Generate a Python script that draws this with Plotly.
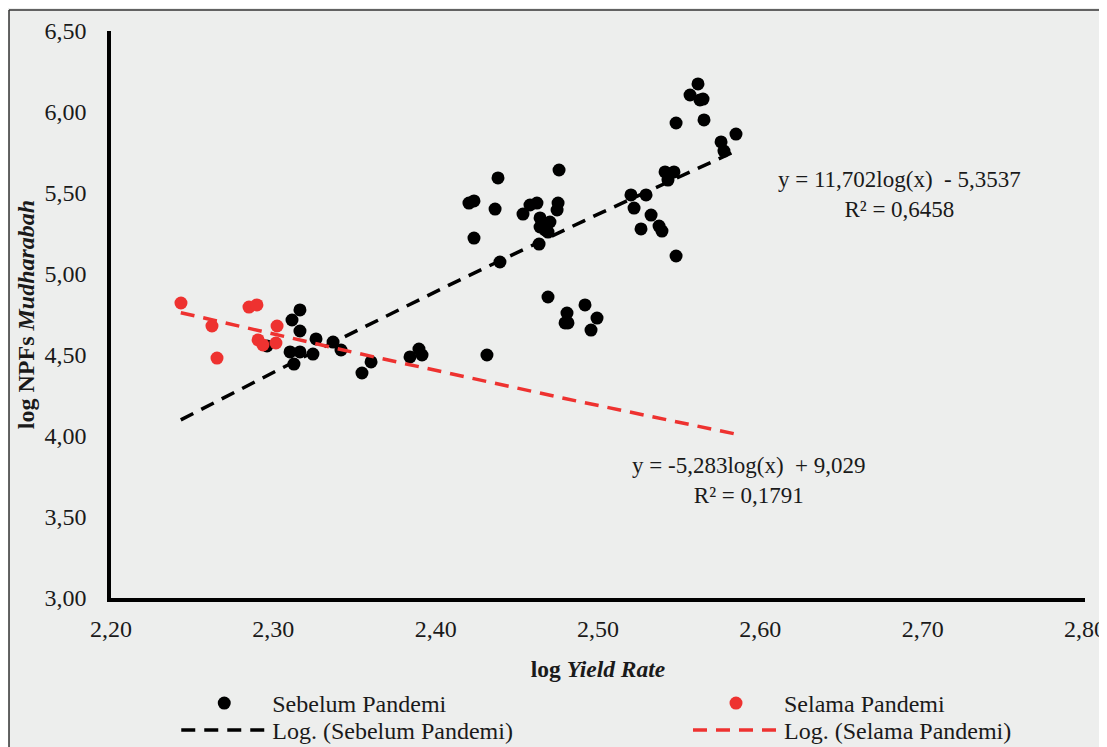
import numpy as np
import plotly.graph_objects as go

# ---- data ----
sebelum_x = [2.3115, 2.3164, 2.3164, 2.3103, 2.3164, 2.3127, 2.3244, 2.3263, 2.3368, 2.3417,
             2.3546, 2.3602, 2.3842, 2.3897, 2.3916, 2.4316, 2.2961,
             2.4384, 2.4205, 2.4236, 2.4366, 2.4236, 2.4396, 2.4760, 2.4754, 2.4748,
             2.4538, 2.4581, 2.4624, 2.4643, 2.4704, 2.4692, 2.4643, 2.4637, 2.4674,
             2.4692, 2.4809, 2.4815, 2.4797, 2.4920, 2.4994, 2.4957,
             2.5616, 2.5567, 2.5628, 2.5647, 2.5481, 2.5653, 2.5850, 2.5758, 2.5776,
             2.5413, 2.5468, 2.5431, 2.5203, 2.5296, 2.5222, 2.5327, 2.5265, 2.5376,
             2.5394, 2.5481]
sebelum_y = [4.716, 4.778, 4.648, 4.519, 4.519, 4.444, 4.506, 4.599, 4.580, 4.531,
             4.389, 4.457, 4.488, 4.537, 4.500, 4.500, 4.556,
             5.593, 5.438, 5.451, 5.401, 5.222, 5.074, 5.642, 5.438, 5.395,
             5.370, 5.426, 5.438, 5.346, 5.321, 5.259, 5.290, 5.185, 5.272,
             4.858, 4.759, 4.698, 4.698, 4.809, 4.728, 4.654,
             6.173, 6.105, 6.074, 6.080, 5.932, 5.951, 5.864, 5.815, 5.759,
             5.630, 5.630, 5.580, 5.488, 5.488, 5.407, 5.364, 5.278, 5.296,
             5.265, 5.111]

selama_x = [2.2431, 2.2850, 2.2899, 2.2622, 2.3023, 2.2653, 2.2906, 2.2936, 2.3016]
selama_y = [4.821, 4.796, 4.809, 4.679, 4.679, 4.481, 4.593, 4.562, 4.574]

# trendline equations printed on the chart: y = a*ln(x) + b
trend_sebelum = (11.702, -5.3537)
trend_selama = (-5.283, 9.029)
trend_x_range = (2.243, 2.586)

eq_sebelum = "y = 11,702log(x)\u00a0\u00a0- 5,3537<br>R² = 0,6458"
eq_selama = "y = -5,283log(x)\u00a0\u00a0+ 9,029<br>R² = 0,1791"

x_ticks = [2.2, 2.3, 2.4, 2.5, 2.6, 2.7, 2.8]
y_ticks = [3.0, 3.5, 4.0, 4.5, 5.0, 5.5, 6.0, 6.5]

BLACK = "#000000"
RED = "#EE3230"
BG = "#EDEEED"
TXT = "#1a1a1a"
FONT = "Liberation Serif, Times New Roman, serif"

tx = np.linspace(trend_x_range[0], trend_x_range[1], 30)

fig = go.Figure()
fig.add_trace(go.Scatter(x=sebelum_x, y=sebelum_y, mode="markers", name="Sebelum Pandemi",
                         marker=dict(color=BLACK, size=13), legend="legend"))
fig.add_trace(go.Scatter(x=selama_x, y=selama_y, mode="markers", name="Selama Pandemi",
                         marker=dict(color=RED, size=13), legend="legend2"))
fig.add_trace(go.Scatter(x=tx, y=trend_sebelum[0] * np.log(tx) + trend_sebelum[1], mode="lines",
                         name="Log. (Sebelum Pandemi)", legend="legend3",
                         line=dict(color=BLACK, width=3.5, dash="14px,9px")))
fig.add_trace(go.Scatter(x=tx, y=trend_selama[0] * np.log(tx) + trend_selama[1], mode="lines",
                         name="Log. (Selama Pandemi)", legend="legend4",
                         line=dict(color=RED, width=3.5, dash="14px,9px")))

fig.add_annotation(x=2.6855, y=5.488, text=eq_sebelum, showarrow=False, align="center",
                   font=dict(family=FONT, size=23, color=TXT))
fig.add_annotation(x=2.593, y=3.728, text=eq_selama, showarrow=False, align="center",
                   font=dict(family=FONT, size=23, color=TXT))

# outer frame (top and left edges visible in the reference)
fig.add_shape(type="line", xref="paper", yref="paper", x0=-0.1047, x1=1.1, y0=1.037, y1=1.037,
              line=dict(color="#333333", width=1.5))
fig.add_shape(type="line", xref="paper", yref="paper", x0=-0.1047, x1=-0.1047, y0=-0.3, y1=1.037,
              line=dict(color="#333333", width=1.5))

legend_common = dict(orientation="v", yanchor="top", xanchor="left", itemwidth=86,
                     bgcolor="rgba(0,0,0,0)", tracegroupgap=0,
                     font=dict(family=FONT, size=24, color=TXT))
col1_x, col2_x = 0.067, 0.5924
row1_y, row2_y = -0.1464, -0.194

fig.update_layout(
    width=1099, height=739,
    margin=dict(l=103, r=22, t=23, b=149, autoexpand=False),
    paper_bgcolor=BG, plot_bgcolor=BG,
    separators=",.",
    font=dict(family=FONT, size=24, color=TXT),
    showlegend=True,
    legend=dict(x=col1_x, y=row1_y, **legend_common),
    legend2=dict(x=col2_x, y=row1_y, **legend_common),
    legend3=dict(x=col1_x, y=row2_y, **legend_common),
    legend4=dict(x=col2_x, y=row2_y, **legend_common),
)
fig.update_xaxes(range=[2.2, 2.8], tickvals=x_ticks, tickformat=".2f", showgrid=False, zeroline=False,
                 showline=True, linecolor=BLACK, linewidth=3.5, ticks="", ticklabelstandoff=6,
                 tickfont=dict(family=FONT, size=24, color=TXT),
                 title=dict(text="<b>log <i>Yield Rate</i></b>", standoff=21,
                            font=dict(family=FONT, size=23.5, color=TXT)))
fig.update_yaxes(range=[3.0, 6.5], tickvals=y_ticks, tickformat=".2f", showgrid=False, zeroline=False,
                 showline=True, linecolor=BLACK, linewidth=3.5, ticks="", ticklabelstandoff=16,
                 tickfont=dict(family=FONT, size=24, color=TXT),
                 title=dict(text="<b>log NPFs <i>Mudharabah</i></b>", standoff=4,
                            font=dict(family=FONT, size=24, color=TXT)))

fig.write_html("out.html")
